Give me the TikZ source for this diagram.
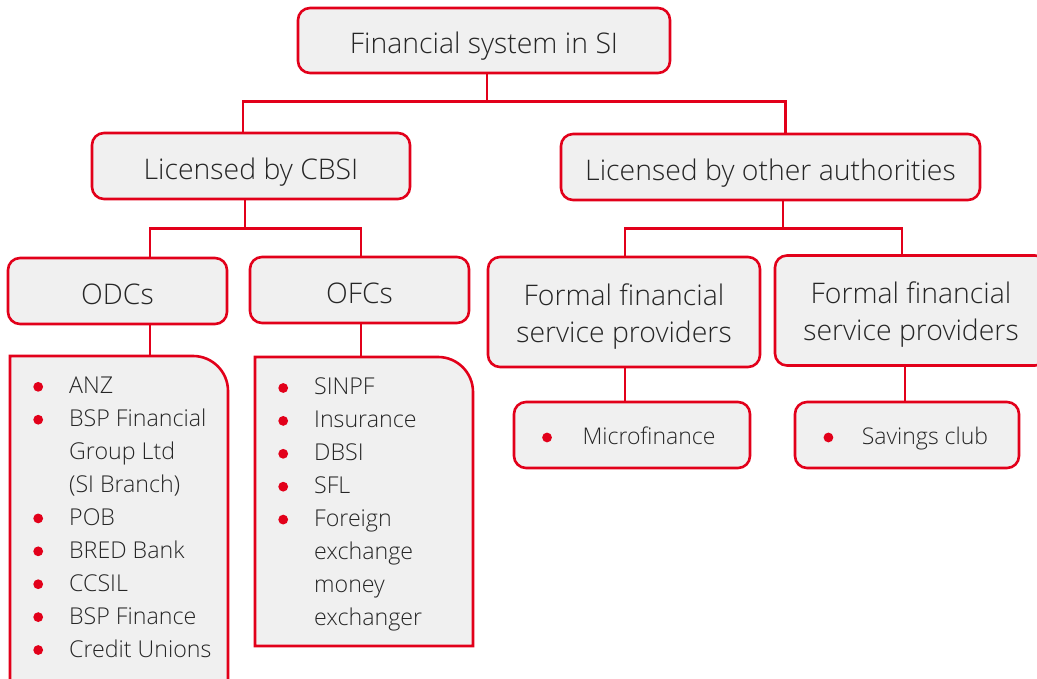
\documentclass[tikz,border=0pt]{standalone}
\usepackage{fontspec}
\setmainfont{Open Sans}[UprightFont=* Light]
\definecolor{accent}{HTML}{E2001A}
\definecolor{boxfill}{HTML}{F0F0F0}
\definecolor{ink}{HTML}{262626}
% list entries: red dot, then the text
\newcommand\bul{\tikz[baseline=0pt]\fill[accent] (0,7pt) circle[radius=4.9pt];}
\newcommand\itm[1]{\makebox[16pt][c]{\bul}\hspace{23pt}#1}
\newcommand\cnt[1]{\hspace*{39pt}#1}
\begin{document}
\begin{tikzpicture}[x=1pt,y=1pt,
  basebox/.style={draw=accent, line width=2.6pt, fill=boxfill, rounded corners=12pt,
    text=ink, font=\fontsize{28.4}{37}\selectfont, align=center, inner sep=0pt},
  box/.style={basebox, text height=27pt, text depth=0pt},
  twoline/.style={basebox},
  smallbox/.style={basebox, font=\fontsize{23}{33}\selectfont,
    text height=21pt, text depth=2pt},
  link/.style={draw=accent, line width=2.6pt},
  listbox/.style={draw=accent, line width=2.6pt, fill=boxfill},
  listtext/.style={text=ink, font=\fontsize{23.2}{32.9}\selectfont, align=left,
    anchor=north west, inner sep=0pt}]
\useasboundingbox (0,0) rectangle (1037,679);
\clip (0,0) rectangle (1037,679);

% first and second level
\node[box, minimum width=372pt, minimum height=65pt] (top) at (484,638.5) {Financial system in SI};
\node[box, minimum width=318pt, minimum height=66pt] (cbsi) at (251,513) {Licensed by CBSI};
\node[box, minimum width=419pt, minimum height=66pt] (other) at (770.5,512) {Licensed by other authorities};

% third level
\node[box, minimum width=219pt, minimum height=66pt] (odcs) at (117.5,388) {ODCs};
\node[box, minimum width=219pt, minimum height=66pt] (ofcs) at (359.5,389) {OFCs};
\node[twoline, minimum width=272pt, minimum height=110pt] (ffspa) at (624,367)
  {\rule{0pt}{30pt}Formal financial\\service providers};
\node[twoline, minimum width=272pt, minimum height=110pt] (ffspb) at (911,368.5)
  {\rule{0pt}{30pt}Formal financial\\service providers};

% single-entry boxes
\node[smallbox, minimum width=236pt, minimum height=66pt] (micro) at (632,244)
  {\makebox[9pt][c]{\bul}\hspace{31pt}Microfinance\hspace*{6pt}};
\node[smallbox, minimum width=224pt, minimum height=66pt] (savings) at (907,244)
  {\makebox[9pt][c]{\bul}\hspace{29pt}Savings club\hspace*{2pt}};

% member lists with a rounded upper right corner
\draw[listbox] (10,-20) -- (10,323) -- (193,323) arc[start angle=90, end angle=0, radius=35] -- (228,-20) -- cycle;
\coordinate (odclist) at (150,323);
\draw[listbox] (255,33) -- (255,322) -- (438,322) arc[start angle=90, end angle=0, radius=35] -- (473,33) -- cycle;
\coordinate (ofclist) at (361,322);

\node[listtext] (odctext) at (30,302) {\itm{ANZ}\\ \itm{BSP Financial}\\ \cnt{Group Ltd}\\ \cnt{(SI Branch)}\\
  \itm{POB}\\ \itm{BRED Bank}\\ \itm{CCSIL}\\ \itm{BSP Finance}\\ \itm{Credit Unions}};
\node[listtext] (ofctext) at (275,301) {\itm{SINPF}\\ \itm{Insurance}\\ \itm{DBSI}\\ \itm{SFL}\\
  \itm{Foreign}\\ \cnt{exchange}\\ \cnt{money}\\ \cnt{exchanger}};

% connectors
\draw[link] ([xshift=3pt]top.south) -- ++(0,-27) -| ([xshift=-8pt]cbsi.north);
\draw[link] ([xshift=3pt]top.south) -- ++(0,-27) -| ([xshift=15pt]other.north);
\draw[link] ([xshift=-6pt]cbsi.south) -- ++(0,-28) -| ([xshift=32.5pt]odcs.north);
\draw[link] ([xshift=-6pt]cbsi.south) -- ++(0,-28) -| ([xshift=1.5pt]ofcs.north);
\draw[link] ([xshift=12.5pt]other.south) -- ++(0,-27) -| ([xshift=1pt]ffspa.north);
\draw[link] ([xshift=12.5pt]other.south) -- ++(0,-27) -| ([xshift=-9pt]ffspb.north);
\draw[link] ([xshift=32.5pt]odcs.south) -- (odclist);
\draw[link] ([xshift=1.5pt]ofcs.south) -- (ofclist);
\draw[link] ([xshift=1pt]ffspa.south) -- ([xshift=-7pt]micro.north);
\draw[link] ([xshift=-6pt]ffspb.south) -- ([xshift=-2pt]savings.north);
\end{tikzpicture}
\end{document}
